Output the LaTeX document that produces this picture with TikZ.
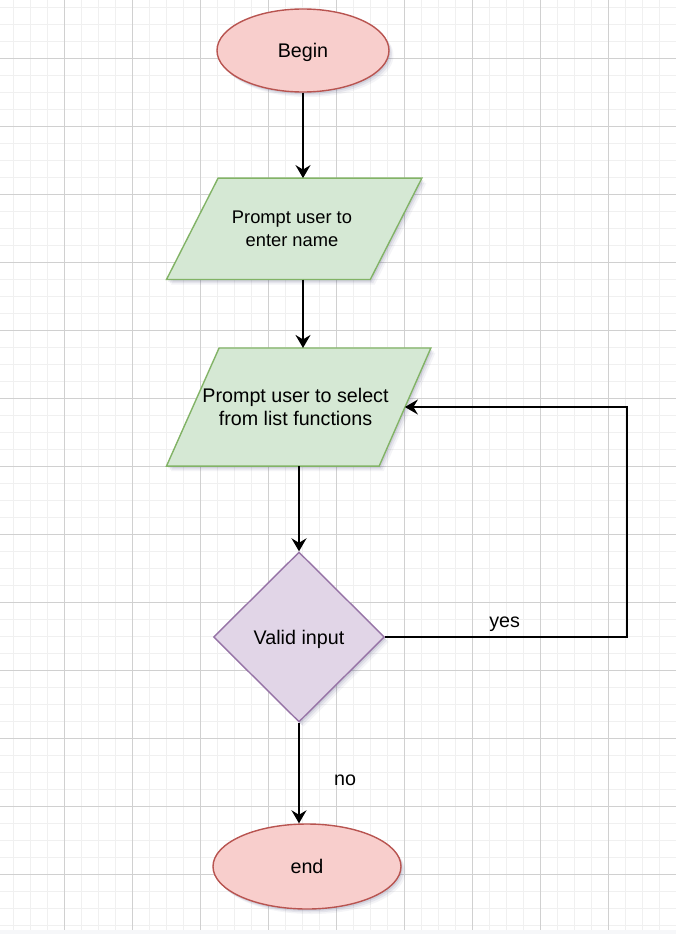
\documentclass[tikz,border=0pt]{standalone}
\usepackage{fontspec}
\setmainfont{Liberation Sans}
\usetikzlibrary{shapes.geometric,arrows.meta,shadows,calc}
\definecolor{termfill}{HTML}{F8CECC}
\definecolor{termline}{HTML}{B85450}
\definecolor{parfill}{HTML}{D5E8D4}
\definecolor{parline}{HTML}{82B366}
\definecolor{decfill}{HTML}{E1D5E7}
\definecolor{decline}{HTML}{9673A6}
\definecolor{gridminor}{HTML}{F0F0F0}
\definecolor{gridmajor}{HTML}{D0D0D0}
\definecolor{shadowc}{HTML}{4A4A7A}
\definecolor{stripc}{HTML}{F6F7F9}
\pgfdeclarelayer{gridlayer}
\pgfdeclarelayer{shapelayer}
\pgfsetlayers{gridlayer,shapelayer,main}
\tikzset{
  softshadow/.style={
    drop shadow={shadow xshift=1.5pt, shadow yshift=-2pt, opacity=0.12, fill=shadowc},
    drop shadow={shadow xshift=3pt, shadow yshift=-3.5pt, opacity=0.09, fill=shadowc},
    drop shadow={shadow xshift=4.5pt, shadow yshift=-5pt, opacity=0.06, fill=shadowc}},
  txtbig/.style={font=\fontsize{19.7pt}{23.3pt}\selectfont},
  txtsmall/.style={font=\fontsize{18.3pt}{23.3pt}\selectfont},
  term/.style={ellipse, draw=termline, fill=termfill, line width=1.4pt, inner sep=0pt,
    softshadow, txtbig, text height=14.1pt, text depth=0pt},
  dec/.style={diamond, draw=decline, fill=decfill, line width=1.4pt, inner sep=0pt,
    softshadow, txtbig, text height=14.1pt, text depth=0pt},
  parbox/.style={rectangle, inner sep=0pt, align=center},
  parshape/.style={draw=parline, fill=parfill, line width=1.4pt, line join=miter, softshadow},
  conn/.style={draw=black, line width=2pt, -{Stealth[length=13pt,width=15pt,inset=4.5pt]}},
  lbl/.style={txtbig, inner sep=0pt},
  minorgrid/.style={draw=gridminor, line width=1.2pt},
  majorgrid/.style={draw=gridmajor, line width=0.9pt}
}
\begin{document}
\begin{tikzpicture}[x=1pt,y=-1pt]
\useasboundingbox (0,0) rectangle (676,934);
\begin{pgfonlayer}{gridlayer}
  \fill[white] (0,0) rectangle (676,934);
  \fill[stripc] (0,929.5) rectangle (676,934);
  \foreach \i in {0,...,38} \draw[minorgrid] ({13.3+17*\i},0) -- ({13.3+17*\i},929.5);
  \foreach \j in {0,...,54} \draw[minorgrid] (0,{7.3+17*\j}) -- (676,{7.3+17*\j});
  \foreach \i in {0,...,8} \draw[majorgrid] ({64.3+68*\i},0) -- ({64.3+68*\i},929.5);
  \foreach \j in {0,...,12} \draw[majorgrid] (0,{58.3+68*\j}) -- (676,{58.3+68*\j});
\end{pgfonlayer}

% terminals and decision
\node[term, minimum width=172pt, minimum height=83pt] (begin) at (303,50.5) {Begin};
\node[dec, minimum width=171pt, minimum height=170pt] (dia) at (299,637) {Valid input};
\node[term, minimum width=188pt, minimum height=85pt] (fin) at (307,866.5) {end};

% parallelograms (text node gives the bounding box, text sits slightly left of centre)
\node[parbox, txtsmall, minimum width=255pt, minimum height=101pt] (p1) at (292,228.8)
  {Prompt user to\\enter name};
\node[parbox, txtbig, minimum width=264pt, minimum height=117.7pt] (p2) at (295.5,407)
  {Prompt user to select\\from list functions};
\begin{pgfonlayer}{shapelayer}
  \filldraw[parshape] ($(p1.north west)+(53.8,0)$) -- ($(p1.north east)+(2.2,0)$)
    -- ($(p1.south east)+(-49.4,0)$) -- ($(p1.south west)+(2.2,0)$) -- cycle;
  \filldraw[parshape] ($(p2.north west)+(55.8,0)$) -- ($(p2.north east)+(3.2,0)$)
    -- ($(p2.south east)+(-48.5,0)$) -- ($(p2.south west)+(3.2,0)$) -- cycle;
\end{pgfonlayer}
\coordinate (p2r) at ($(p2.east)+(-22.8,0)$);

% connectors
\draw[conn] (begin.south) -- (begin.south |- p1.north);
\draw[conn] (begin.south |- p1.south) -- (begin.south |- p2.north);
\draw[conn] (dia.north |- p2.south) -- (dia.north);
\draw[conn] (dia.east) -- ++(242,0)
  node[lbl, midway, anchor=base, xshift=-1.5pt, yshift=9.5pt] {yes} |- (p2r);
\draw[conn] (dia.south) -- (dia.south |- fin.north)
  node[lbl, midway, anchor=base, xshift=46pt, yshift=-12.7pt] {no};
\end{tikzpicture}
\end{document}
